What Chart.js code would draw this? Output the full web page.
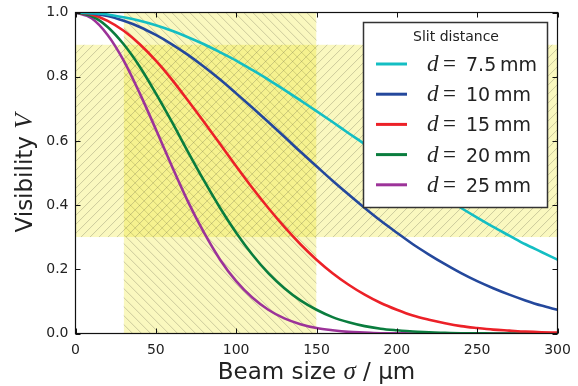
<!DOCTYPE html>
<html>
<head>
<meta charset="utf-8">
<script src="https://cdn.jsdelivr.net/npm/chart.js@4.4.1/dist/chart.umd.min.js"></script>
<style>
    html, body { margin: 0; padding: 0; background: #fff; }
    #wrap { width: 578px; height: 386px; }
</style>
</head>
<body>
<div id="wrap"><canvas id="visChart" width="578" height="386"></canvas></div>
<script>
// Beam size sigma in um
const sigma = [0, 10, 20, 30, 40, 50, 60, 70, 80, 90, 100, 110, 120, 130, 140, 150,
    160, 170, 180, 190, 200, 210, 220, 230, 240, 250, 260, 270, 280, 290, 300];

// Visibility, one list per slit distance
const vis75 = [1.000, 0.998, 0.994, 0.985, 0.974, 0.960, 0.943, 0.923, 0.901, 0.876, 0.850,
    0.821, 0.791, 0.759, 0.726, 0.693, 0.659, 0.624, 0.590, 0.555, 0.521, 0.487, 0.454,
    0.422, 0.391, 0.361, 0.332, 0.305, 0.278, 0.254, 0.230];
const vis10 = [1.000, 0.997, 0.989, 0.974, 0.955, 0.930, 0.901, 0.868, 0.831, 0.791, 0.748,
    0.704, 0.659, 0.613, 0.566, 0.521, 0.476, 0.433, 0.391, 0.351, 0.314, 0.278, 0.246,
    0.216, 0.188, 0.163, 0.141, 0.121, 0.103, 0.087, 0.074];
const vis15 = [1.000, 0.994, 0.974, 0.943, 0.901, 0.850, 0.791, 0.726, 0.659, 0.590, 0.521,
    0.454, 0.391, 0.332, 0.278, 0.230, 0.188, 0.152, 0.121, 0.095, 0.074, 0.056, 0.043,
    0.032, 0.023, 0.017, 0.012, 0.009, 0.006, 0.004, 0.003];
const vis20 = [1.000, 0.989, 0.955, 0.901, 0.831, 0.748, 0.659, 0.566, 0.476, 0.391, 0.314,
    0.246, 0.188, 0.141, 0.103, 0.074, 0.051, 0.035, 0.023, 0.015, 0.010, 0.006, 0.004,
    0.002, 0.001, 0.001, 0.000, 0.000, 0.000, 0.000, 0.000];
const vis25 = [1.000, 0.982, 0.930, 0.850, 0.748, 0.636, 0.521, 0.411, 0.314, 0.230, 0.163,
    0.112, 0.074, 0.047, 0.029, 0.017, 0.010, 0.005, 0.003, 0.001, 0.001, 0.000, 0.000,
    0.000, 0.000, 0.000, 0.000, 0.000, 0.000, 0.000, 0.000];

const seriesNames = ['7.5', '10', '15', '20', '25'];
const seriesValues = [vis75, vis10, vis15, vis20, vis25];
const seriesColors = ['#14bec3', '#24489c', '#ec2128', '#0a7d3e', '#9c3399'];

// Shaded regions (data units)
const bandX = [30, 150];
const bandY = [0.3, 0.9];

const xTicks = [0, 50, 100, 150, 200, 250, 300];
const yTicks = [0, 0.2, 0.4, 0.6, 0.8, 1.0];

const SANS = "'DejaVu Sans', sans-serif";
const SERIF = "'Liberation Serif', 'DejaVu Serif', serif";

/**
 * Draw a hatched, translucent rectangle
 */
function hatchRect(ctx, x0, y0, x1, y1, dir) {
    ctx.save();
    ctx.beginPath();
    ctx.rect(x0, y0, x1 - x0, y1 - y0);
    ctx.clip();
    ctx.fillStyle = 'rgba(236, 226, 0, 0.25)';
    ctx.fillRect(x0, y0, x1 - x0, y1 - y0);
    ctx.strokeStyle = 'rgba(105, 105, 80, 0.4)';
    ctx.lineWidth = 0.8;
    const h = y1 - y0;
    const step = 9;
    ctx.beginPath();
    for (let c = x0 - h; c < x1 + h; c += step) {
        if (dir > 0) {
            // "/" lines
            ctx.moveTo(c, y1);
            ctx.lineTo(c + h, y0);
        } else {
            // "\" lines
            ctx.moveTo(c, y0);
            ctx.lineTo(c + h, y1);
        }
    }
    ctx.stroke();
    ctx.restore();
}

// Draw a row of text pieces with different fonts
function drawPieces(ctx, pieces, x, y) {
    let cx = x;
    pieces.forEach(p => {
        ctx.font = p.font;
        ctx.fillText(p.text, cx, y);
        cx += ctx.measureText(p.text).width;
    });
    return cx;
}

function piecesWidth(ctx, pieces) {
    let w = 0;
    pieces.forEach(p => {
        ctx.font = p.font;
        w += ctx.measureText(p.text).width;
    });
    return w;
}

const bandsPlugin = {
    id: 'bands',
    beforeDatasetsDraw(chart) {
        const { ctx, scales: { x, y } } = chart;
        hatchRect(ctx, x.getPixelForValue(bandX[0]), y.getPixelForValue(1),
            x.getPixelForValue(bandX[1]), y.getPixelForValue(0), -1);
        hatchRect(ctx, x.getPixelForValue(0), y.getPixelForValue(bandY[1]),
            x.getPixelForValue(300), y.getPixelForValue(bandY[0]), 1);
    }
};

const framePlugin = {
    id: 'frame',
    afterDatasetsDraw(chart) {
        const { ctx, chartArea: a, scales: { x, y } } = chart;
        ctx.save();
        ctx.strokeStyle = '#111';
        ctx.lineWidth = 1.2;
        ctx.strokeRect(a.left, a.top, a.right - a.left, a.bottom - a.top);
        ctx.lineWidth = 1;
        ctx.beginPath();
        xTicks.forEach(v => {
            const px = Math.round(x.getPixelForValue(v)) + 0.5;
            ctx.moveTo(px, a.bottom);
            ctx.lineTo(px, a.bottom - 5);
            ctx.moveTo(px, a.top);
            ctx.lineTo(px, a.top + 5);
        });
        yTicks.forEach(v => {
            const py = Math.round(y.getPixelForValue(v)) + 0.5;
            ctx.moveTo(a.left, py);
            ctx.lineTo(a.left + 5, py);
            ctx.moveTo(a.right, py);
            ctx.lineTo(a.right - 5, py);
        });
        ctx.stroke();
        ctx.restore();
    },
    afterDraw(chart) {
        const { ctx, chartArea: a } = chart;
        ctx.save();
        ctx.fillStyle = '#222';
        ctx.textBaseline = 'alphabetic';

        // x axis title
        const xt = [
            { text: 'Beam size ', font: `23px ${SANS}` },
            { text: '\u03c3', font: `italic 25px ${SERIF}` },
            { text: ' / \u00b5m', font: `23px ${SANS}` }
        ];
        const xw = piecesWidth(ctx, xt);
        drawPieces(ctx, xt, (a.left + a.right) / 2 - xw / 2, 379);

        // y axis title
        const yt = [
            { text: 'Visibility ', font: `23px ${SANS}` },
            { text: 'V', font: `italic 25px ${SERIF}` }
        ];
        const yw = piecesWidth(ctx, yt);
        ctx.translate(32, (a.top + a.bottom) / 2);
        ctx.rotate(-Math.PI / 2);
        drawPieces(ctx, yt, -yw / 2, 0);
        ctx.restore();

        // legend
        ctx.save();
        ctx.fillStyle = '#fff';
        ctx.fillRect(363.5, 22.5, 184, 185);
        ctx.strokeStyle = '#333';
        ctx.lineWidth = 1.5;
        ctx.strokeRect(363.5, 22.5, 184, 185);
        ctx.fillStyle = '#222';
        ctx.font = `14px ${SANS}`;
        ctx.textAlign = 'center';
        ctx.textBaseline = 'middle';
        ctx.fillText('Slit distance', 456, 37);
        ctx.textAlign = 'left';
        ctx.textBaseline = 'alphabetic';
        seriesNames.forEach((name, i) => {
            const ry = 64 + i * 30.2;
            ctx.strokeStyle = seriesColors[i];
            ctx.lineWidth = 3;
            ctx.beginPath();
            ctx.moveTo(376, ry);
            ctx.lineTo(407, ry);
            ctx.stroke();
            ctx.fillStyle = '#222';
            ctx.font = `italic 23px ${SERIF}`;
            ctx.fillText('d', 427, ry + 7);
            ctx.font = `23px ${SERIF}`;
            ctx.fillText('=', 443, ry + 7);
            ctx.font = `19px ${SANS}`;
            ctx.fillText(name + '\u2009mm', 466, ry + 7);
        });
        ctx.restore();
    }
};

new Chart(document.getElementById('visChart'), {
    type: 'line',
    data: {
        datasets: seriesValues.map((vals, i) => ({
            label: 'd = ' + seriesNames[i] + ' mm',
            data: sigma.map((s, j) => ({ x: s, y: vals[j] })),
            borderColor: seriesColors[i],
            borderWidth: 2.6,
            pointRadius: 0,
            cubicInterpolationMode: 'monotone',
            fill: false
        }))
    },
    options: {
        responsive: false,
        animation: false,
        layout: { padding: { left: 0, right: 20.5, top: 12.5, bottom: 0 } },
        plugins: {
            legend: { display: false },
            tooltip: { enabled: false }
        },
        scales: {
            x: {
                type: 'linear',
                min: 0,
                max: 300,
                afterBuildTicks(scale) { scale.ticks = xTicks.map(v => ({ value: v })); },
                afterFit(scale) {
                    scale.height = 52.5;
                    scale.paddingLeft = 0;
                    scale.paddingRight = 0;
                },
                grid: { display: false, drawTicks: false },
                border: { display: false },
                ticks: {
                    padding: 8,
                    maxRotation: 0,
                    color: '#222',
                    font: { family: 'DejaVu Sans', size: 14 }
                }
            },
            y: {
                min: 0,
                max: 1,
                afterBuildTicks(scale) { scale.ticks = yTicks.map(v => ({ value: v })); },
                afterFit(scale) {
                    scale.width = 75.5;
                    scale.paddingTop = 0;
                    scale.paddingBottom = 0;
                },
                grid: { display: false, drawTicks: false },
                border: { display: false },
                ticks: {
                    padding: 7,
                    color: '#222',
                    font: { family: 'DejaVu Sans', size: 14 },
                    callback: v => v.toFixed(1)
                }
            }
        }
    },
    plugins: [bandsPlugin, framePlugin]
});
</script>
</body>
</html>
